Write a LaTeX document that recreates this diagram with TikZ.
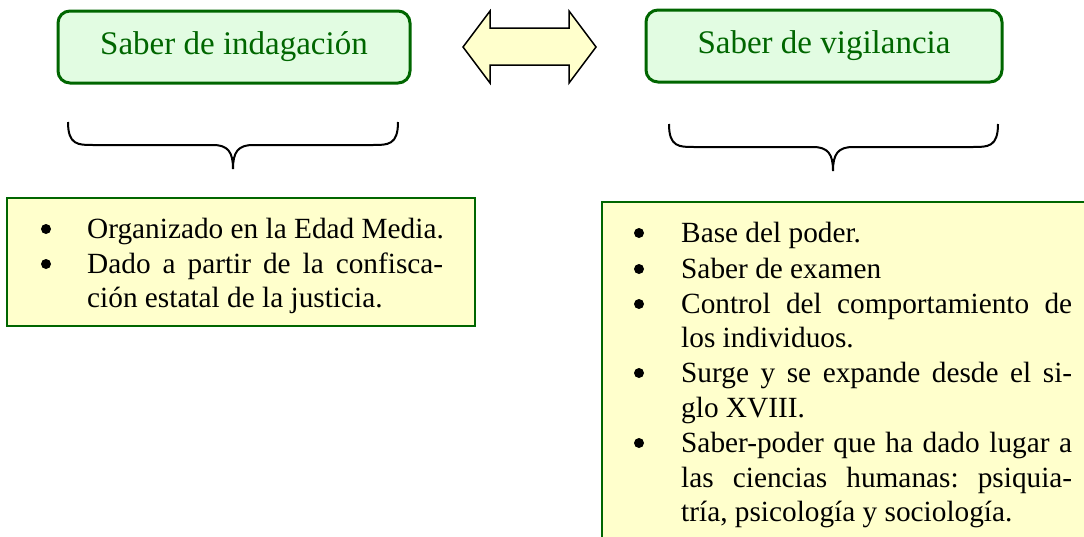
\documentclass[tikz,border=0pt]{standalone}
\usepackage{fontspec}
\newfontfamily\tms{Liberation Serif}
\definecolor{dgreen}{HTML}{006600}
\definecolor{lgreen}{HTML}{E2FCE2}
\definecolor{lyellow}{HTML}{FFFFCC}
\newcommand{\tsz}{\fontsize{33}{36}\selectfont\tms}
\newcommand{\bsz}{\fontsize{29.3}{34}\selectfont\tms\frenchspacing}
\tikzset{
  titlebox/.style={draw=dgreen, line width=3pt, fill=lgreen, rounded corners=12pt,
    text=dgreen, inner sep=0pt},
  bodybox/.style={draw=dgreen, line width=1.5pt, fill=lyellow},
  brace/.style={draw=black, line width=2pt},
  bul/.style={circle, fill=black, inner sep=0pt, minimum size=10pt},
  ln/.style={anchor=base west, inner sep=0pt},
}
\begin{document}
\begin{tikzpicture}[x=1pt,y=-1pt]
\useasboundingbox (0,0) rectangle (1084,536);
% title boxes
\node[titlebox, minimum width=352pt, minimum height=72pt] (t1) at (234,47) {\tsz Saber de indagación};
\node[titlebox, minimum width=356pt, minimum height=72pt] (t2) at (824,46) {\tsz Saber de vigilancia};
% double arrow
\draw[fill=lyellow, line width=1.5pt, line join=miter]
  (463,47) -- (490,11) -- (490,28) -- (569,28) -- (569,11) -- (596,47)
  -- (569,83) -- (569,65) -- (490,65) -- (490,83) -- cycle;
% braces
\draw[brace] (68,122) .. controls (68,145) and (78,145) .. (93,145) -- (213,145)
  .. controls (228,145) and (233,152) .. (233,169)
  .. controls (233,152) and (238,145) .. (253,145) -- (373,145)
  .. controls (388,145) and (398,145) .. (398,122);
\draw[brace] (669,124) .. controls (669,147) and (679,147) .. (694,147) -- (813,147)
  .. controls (828,147) and (833,154) .. (833,171)
  .. controls (833,154) and (838,147) .. (853,147) -- (973,147)
  .. controls (988,147) and (998,147) .. (998,124);
% left body box
\path[bodybox] (7,198) rectangle (475,326);
\node[bul] (b11) at (46,229) {};
\node[ln] (l11) at (87,238) {\bsz Organizado en la Edad Media.};
\node[bul] (b12) at (46,264) {};
\node[ln] (l12) at (87,273) {\bsz\makebox[356pt][s]{Dado a partir de la confisca-}};
\node[ln] (l13) at (87,307) {\bsz ción estatal de la justicia.};
% right body box
\fill[lyellow] (602,202) rectangle (1090,545);
\draw[dgreen, line width=1.5pt] (602,545) -- (602,202) -- (1090,202);
\node[bul] (b21) at (639,233) {};
\node[ln] (l21) at (681,242) {\bsz Base del poder.};
\node[bul] (b22) at (639,269) {};
\node[ln] (l22) at (681,278) {\bsz Saber de examen};
\node[bul] (b23) at (639,304) {};
\node[ln] (l23) at (681,313) {\bsz\makebox[391pt][s]{Control del comportamiento de}};
\node[ln] (l24) at (681,347) {\bsz los individuos.};
\node[bul] (b25) at (639,373) {};
\node[ln] (l25) at (681,382) {\bsz\makebox[391pt][s]{Surge y se expande desde el si-}};
\node[ln] (l26) at (681,417) {\bsz glo XVIII.};
\node[bul] (b27) at (639,443) {};
\node[ln] (l27) at (681,452) {\bsz\makebox[391pt][s]{Saber-poder que ha dado lugar a}};
\node[ln] (l28) at (681,487) {\bsz\makebox[391pt][s]{las ciencias humanas: psiquia-}};
\node[ln] (l29) at (681,521) {\bsz tría, psicología y sociología.};
\end{tikzpicture}
\end{document}
